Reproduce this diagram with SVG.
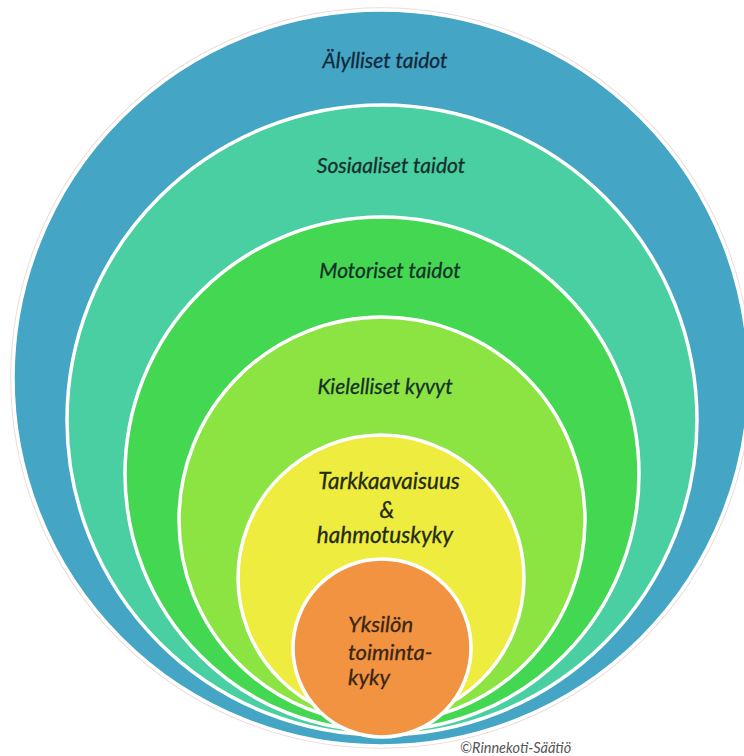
<svg xmlns="http://www.w3.org/2000/svg" width="744" height="756" viewBox="0 0 744 756">
  <style>
    .ring { stroke: #ffffff; stroke-width: 3.5; }
    .lbl { font-family: Lato, "Open Sans", "Liberation Sans", sans-serif; font-style: italic; font-size: 21px; fill: #15302a; text-anchor: middle; stroke: currentColor; stroke-width: 0.3; }
    .mid { font-size: 22.5px; }
    .core { font-family: Lato, "Open Sans", "Liberation Sans", sans-serif; font-style: italic; font-size: 22px; fill: #3a2616; stroke: #3a2616; stroke-width: 0.3; }
    .copy { font-family: Lato, "Open Sans", "Liberation Sans", sans-serif; font-style: italic; font-size: 14.5px; fill: #555555; }
  </style>
  <rect width="744" height="756" fill="#ffffff"/>
  <g id="alylliset">
    <circle cx="381" cy="378" r="370" fill="none" stroke="#ecdcdc" stroke-width="1.5"/>
    <circle class="ring" cx="381" cy="378" r="368" fill="#44a5c5"/>
    <text class="lbl" x="385" y="68" style="fill:#12283a;stroke:#12283a">Älylliset taidot</text>
  </g>
  <g id="sosiaaliset">
    <circle class="ring" cx="382" cy="420" r="315" fill="#49cfa2"/>
    <text class="lbl" x="391" y="173" style="stroke:#15302a">Sosiaaliset taidot</text>
  </g>
  <g id="motoriset">
    <circle class="ring" cx="382" cy="474" r="257" fill="#44d852"/>
    <text class="lbl" x="390" y="278" style="stroke:#15302a">Motoriset taidot</text>
  </g>
  <g id="kielelliset">
    <circle class="ring" cx="382" cy="520" r="203" fill="#8ce442"/>
    <text class="lbl" x="385" y="394" style="stroke:#15302a">Kielelliset kyvyt</text>
  </g>
  <g id="tarkkaavaisuus">
    <circle class="ring" cx="381" cy="578" r="143" fill="#eeec3e"/>
    <text class="lbl mid" x="389" y="489" style="fill:#222a10;stroke:#222a10">Tarkkaavaisuus</text>
    <text class="lbl mid" x="387" y="518" style="fill:#222a10;stroke:#222a10">&amp;</text>
    <text class="lbl mid" x="385" y="543" style="fill:#222a10;stroke:#222a10">hahmotuskyky</text>
  </g>
  <g id="yksilo">
    <circle class="ring" cx="382" cy="648" r="89" fill="#f19341"/>
    <text class="core" x="348" y="632">Yksilön</text>
    <text class="core" x="348" y="660">toiminta-</text>
    <text class="core" x="348" y="685">kyky</text>
  </g>
  <g id="connectors"/>
  <text class="copy" x="460" y="753">©Rinnekoti-Säätiö</text>
</svg>
